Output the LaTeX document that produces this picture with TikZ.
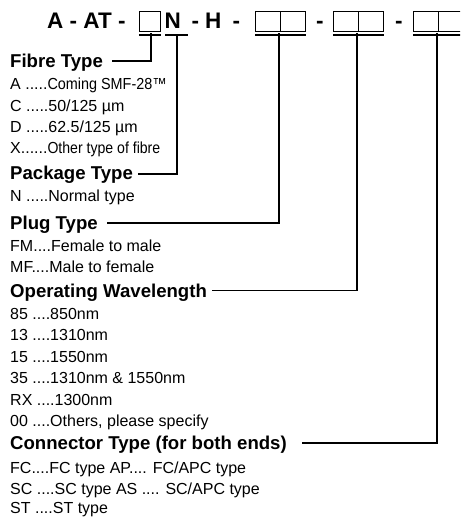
\documentclass[tikz,border=0pt]{standalone}
\usepackage{fontspec}
\setmainfont{Liberation Sans}
\usepackage{graphicx}
\usetikzlibrary{calc}
\begin{document}
\begin{tikzpicture}[x=1pt,y=-1pt,
  hd/.style={anchor=base west, inner sep=0pt, font=\fontsize{18.6}{22}\selectfont\bfseries},
  it/.style={anchor=base west, inner sep=0pt, font=\fontsize{16}{19}\selectfont},
  tp/.style={anchor=base west, inner sep=0pt, font=\fontsize{22.5}{26}\selectfont\bfseries},
  sq/.style={draw, line width=1.3pt, inner sep=0pt, minimum width=23pt, minimum height=20pt, anchor=north west},
  ul/.style={line width=2pt},
  conn/.style={line width=1.7pt}]
\useasboundingbox (0,0) rectangle (460,518);
\clip (0,0) rectangle (460,518);
% header code
\node[tp] (hA) at (47,29) {A - AT -};
\node[sq, minimum width=21pt] (b1) at (139,11) {};
\node[tp] (hN) at (164.5,29) {N};
\node[tp] (hd1) at (191.5,29) {-};
\node[tp] (hH) at (205,29) {H};
\node[tp] (hd2) at (232.5,29) {-};
\node[sq, minimum width=25pt] (p1a) at (255,11) {};
\node[sq, minimum width=25pt] (p1b) at (280,11) {};
\node[tp] (hd3) at (316,29) {-};
\node[sq, minimum width=25pt] (p2a) at (333,11) {};
\node[sq, minimum width=25pt] (p2b) at (358,11) {};
\node[tp] (hd4) at (395,29) {-};
\node[sq, minimum width=25pt] (p3a) at (413,11) {};
\node[sq, minimum width=25pt] (p3b) at (438,11) {};
% underlines
\draw[ul] ($(b1.south west)+(0,2.5)$) -- ($(b1.south east)+(0,2.5)$);
\draw[ul] (165,35) -- (188,35);
\draw[ul] ($(p1a.south west)+(0,2.5)$) -- ($(p1b.south east)+(0,2.5)$);
\draw[ul] ($(p2a.south west)+(0,2.5)$) -- ($(p2b.south east)+(0,2.5)$);
\draw[ul] ($(p3a.south west)+(0,2.5)$) -- ($(p3b.south east)+(0,2.5)$);
\coordinate (u1) at (151,33.5);
\coordinate (u2) at (177,35);
\coordinate (u3) at (279,33.5);
\coordinate (u4) at (357,33.5);
\coordinate (u5) at (437,33.5);
% sections
\node[hd] (fib) at (10,67.5) {Fibre Type};
\node[it] (fa) at (10,90) {A .....\scalebox{0.9}[1]{Coming SMF-28™}};
\node[it] (fc) at (10,111.3) {C .....50/125 µm};
\node[it] (fd) at (10,132.6) {D .....62.5/125 µm};
\node[it] (fx) at (10,154) {X......\scalebox{0.88}[1]{Other type of fibre}};
\node[hd] (pkg) at (10,180) {Package Type};
\node[it] (pn) at (10,202) {N .....Normal type};
\node[hd] (plg) at (10,229.5) {Plug Type};
\node[it] (pfm) at (10,251) {FM....Female to male};
\node[it] (pmf) at (10,272.3) {MF....Male to female};
\node[hd] (opw) at (10,297) {Operating Wavelength};
\node[it] (w85) at (10,319) {85 ....850nm};
\node[it] (w13) at (10,340.5) {13 ....1310nm};
\node[it] (w15) at (10,362) {15 ....1550nm};
\node[it] (w35) at (10,383.5) {35 ....1310nm \& 1550nm};
\node[it] (wrx) at (10,405) {RX ....1300nm};
\node[it] (w00) at (10,426.5) {00 ....Others, please specify};
\node[hd] (con) at (10,449) {Connector Type (for both ends)};
\node[it] (cfc) at (10,473.5) {FC....FC type AP.... FC/APC type};
\node[it] (csc) at (10,494) {SC ....SC type AS .... SC/APC type};
\node[it] (cst) at (10,513.5) {ST ....ST type};
% connectors
\coordinate (l1) at (112,61);
\coordinate (l2) at (138,174);
\coordinate (l3) at (107,223);
\coordinate (l4) at (212,290.5);
\coordinate (l5) at (302,443);
\draw[conn] (l1) -| (u1);
\draw[conn] (l2) -| (u2);
\draw[conn] (l3) -| (u3);
\draw[conn] (l4) -| (u4);
\draw[conn] (l5) -| (u5);
\end{tikzpicture}
\end{document}
